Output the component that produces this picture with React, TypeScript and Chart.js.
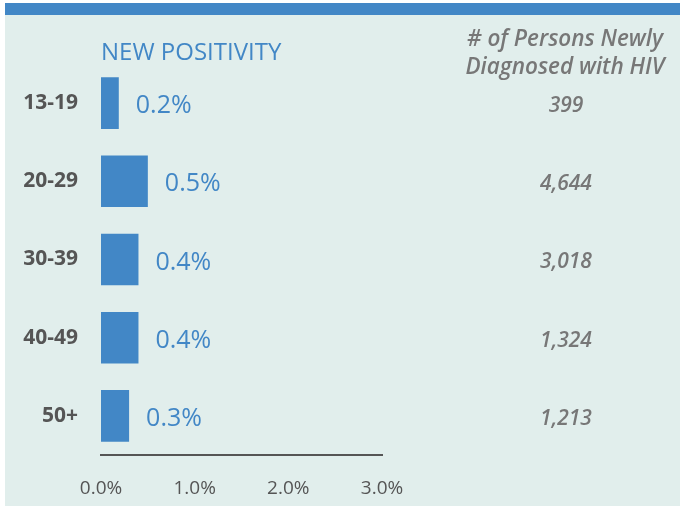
import React, { useEffect, useRef } from "react";
import { Chart, registerables } from "chart.js";

Chart.register(...registerables);

const categories = ["13-19", "20-29", "30-39", "40-49", "50+"];
const positivity = [0.19, 0.5, 0.4, 0.4, 0.3];
const positivityLabels = ["0.2%", "0.5%", "0.4%", "0.4%", "0.3%"];
const newlyDiagnosed = ["399", "4,644", "3,018", "1,324", "1,213"];
const xTicks = [0, 1, 2, 3];
const chartTitle = "NEW POSITIVITY";
const sideHeader = ["# of Persons Newly", "Diagnosed with HIV"];

const BLUE = "#4287c6";
const BG = "#e1eeec";
const GRAY = "#777777";
const DARK = "#555555";
const FONT = "'Open Sans', 'Noto Sans', sans-serif";

const decorPlugin = {
  id: "decor",
  beforeDraw(chart: any) {
    const ctx = chart.ctx;
    ctx.save();
    ctx.fillStyle = "#ffffff";
    ctx.fillRect(0, 0, chart.width, chart.height);
    ctx.fillStyle = BG;
    ctx.fillRect(5, 15, chart.width - 5, chart.height - 15);
    ctx.fillStyle = BLUE;
    ctx.fillRect(5, 3, chart.width - 5, 12);
    ctx.restore();
  },
  afterDatasetsDraw(chart: any) {
    const ctx = chart.ctx;
    const meta = chart.getDatasetMeta(0);
    ctx.save();
    // title
    ctx.fillStyle = BLUE;
    ctx.font = `500 24px ${FONT}`;
    ctx.textAlign = "left";
    ctx.textBaseline = "middle";
    ctx.fillText(chartTitle, chart.chartArea.left, 53);
    // side header
    ctx.fillStyle = GRAY;
    ctx.font = `italic 600 22.5px ${FONT}`;
    ctx.textAlign = "center";
    ctx.fillText(sideHeader[0], 565, 40);
    ctx.fillText(sideHeader[1], 565, 68);
    // value labels and counts
    meta.data.forEach((bar: any, i: number) => {
      ctx.fillStyle = BLUE;
      ctx.font = `400 25px ${FONT}`;
      ctx.textAlign = "left";
      ctx.textBaseline = "middle";
      ctx.fillText(positivityLabels[i], bar.x + 17, bar.y + 3);
      ctx.fillStyle = GRAY;
      ctx.font = `italic 600 21px ${FONT}`;
      ctx.textAlign = "center";
      ctx.fillText(newlyDiagnosed[i], 566, bar.y + 3);
    });
    ctx.restore();
  },
};

export default function App() {
  const ref = useRef<HTMLCanvasElement>(null);
  useEffect(() => {
    document.body.style.margin = "0";
    const chart = new Chart(ref.current!, {
      type: "bar",
      data: {
        labels: categories,
        datasets: [
          {
            data: positivity,
            backgroundColor: BLUE,
            barPercentage: 0.66,
            categoryPercentage: 1,
          },
        ],
      },
      options: {
        indexAxis: "y",
        animation: false,
        responsive: false,
        layout: { padding: { top: 64, right: 298, left: 0, bottom: 0 } },
        plugins: { legend: { display: false }, tooltip: { enabled: false } },
        scales: {
          x: {
            min: 0,
            max: 3,
            afterBuildTicks: (scale: any) => {
              scale.ticks = xTicks.map((v) => ({ value: v }));
            },
            afterFit: (scale: any) => {
              scale.height = 51;
            },
            grid: { display: false },
            border: { display: true, color: "#555555", width: 2 },
            ticks: {
              padding: 14,
              color: DARK,
              font: { family: FONT, size: 19 },
              callback: (v: any) => Number(v).toFixed(1) + "%",
            },
          },
          y: {
            afterFit: (scale: any) => {
              scale.width = 101;
            },
            grid: { display: false },
            border: { display: false },
            ticks: {
              padding: 15,
              color: DARK,
              font: { family: FONT, size: 21, weight: "bold" },
            },
          },
        },
      },
      plugins: [decorPlugin],
    });
    return () => chart.destroy();
  }, []);
  return (
    <div style={{ width: 680, height: 506 }}>
      <canvas ref={ref} width={680} height={506} style={{ display: "block" }} />
    </div>
  );
}
